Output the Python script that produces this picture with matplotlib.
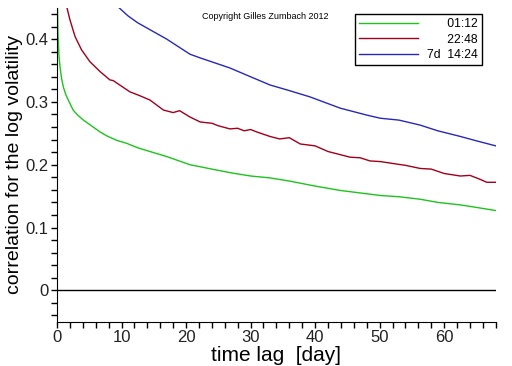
import matplotlib
matplotlib.use('Agg')
import matplotlib.pyplot as plt
import matplotlib.ticker as mticker

# ── Data ──────────────────────────────────────────────────────────────────────
LAG_GREEN = [0.02, 0.08, 0.15, 0.3, 0.47, 0.7, 0.98, 1.35, 1.75, 2.5, 3.2, 4.1,
             5.6, 6.7, 7.7, 9.2, 10.8, 12.5, 14.4, 17, 20.6, 24, 27, 30, 33,
             36, 40, 43.9, 47, 50.1, 53, 56.3, 59, 62.5, 65, 68]
CORR_GREEN = [0.55, 0.45, 0.41, 0.375, 0.356, 0.338, 0.324, 0.312, 0.303, 0.287,
              0.279, 0.271, 0.260, 0.252, 0.246, 0.239, 0.234, 0.227, 0.221,
              0.213, 0.200, 0.193, 0.187, 0.182, 0.179, 0.174, 0.166, 0.159,
              0.155, 0.151, 0.149, 0.145, 0.140, 0.136, 0.132, 0.127]

LAG_RED = [1.3, 1.5, 2.0, 2.8, 3.8, 5.1, 6.7, 8.2, 8.7, 10, 11.3, 12.8, 14.4,
           16.5, 18, 19, 20.6, 22.2, 24, 25, 26.8, 28, 29, 30, 31, 33, 34.5,
           36, 37.7, 40, 42, 43.9, 45.4, 47, 48.5, 50.1, 52, 54, 56.3, 58, 60,
           62.5, 64, 65.5, 66.6, 68]
CORR_RED = [0.47, 0.452, 0.431, 0.404, 0.383, 0.364, 0.348, 0.335, 0.334, 0.325,
            0.316, 0.310, 0.303, 0.287, 0.283, 0.286, 0.276, 0.268, 0.266,
            0.262, 0.257, 0.258, 0.254, 0.256, 0.252, 0.245, 0.241, 0.243,
            0.233, 0.230, 0.221, 0.216, 0.212, 0.211, 0.206, 0.205, 0.202,
            0.199, 0.194, 0.193, 0.186, 0.182, 0.183, 0.177, 0.172, 0.172]

LAG_BLUE = [9.2, 9.5, 11, 12.5, 14.4, 17, 20.6, 22.2, 26.8, 30, 33, 36, 39.2,
            43.9, 45.4, 48, 50.1, 53, 56.3, 59, 62.5, 65, 68]
CORR_BLUE = [0.46, 0.451, 0.437, 0.426, 0.415, 0.400, 0.376, 0.370, 0.354, 0.340,
             0.327, 0.318, 0.308, 0.290, 0.286, 0.279, 0.274, 0.271, 0.263,
             0.254, 0.245, 0.238, 0.230]

LABELS = ['      01:12', '      22:48', '7d  14:24']
COLORS = ['#1cc41c', '#a0001c', '#2828b8']

plt.rcParams['font.family'] = ['Liberation Sans', 'DejaVu Sans']

fig = plt.figure(figsize=(5.12, 3.66), dpi=100)
ax = fig.add_axes([0.1113, 0.121, 0.857, 0.858])

ax.plot(LAG_GREEN, CORR_GREEN, color=COLORS[0], lw=1, label=LABELS[0])
ax.plot(LAG_RED, CORR_RED, color=COLORS[1], lw=1, label=LABELS[1])
ax.plot(LAG_BLUE, CORR_BLUE, color=COLORS[2], lw=1, label=LABELS[2])
ax.axhline(0, color='black', lw=1)

ax.set_xlim(0, 68)
ax.set_ylim(-0.05, 0.45)
for side in ('top', 'right'):
    ax.spines[side].set_visible(False)

ax.xaxis.set_major_locator(mticker.MultipleLocator(10))
ax.xaxis.set_minor_locator(mticker.MultipleLocator(2))
ax.yaxis.set_major_locator(mticker.MultipleLocator(0.1))
ax.yaxis.set_minor_locator(mticker.MultipleLocator(0.02))
ax.yaxis.set_major_formatter(mticker.FuncFormatter(lambda v, _: '0' if abs(v) < 1e-9 else f'{v:.1f}'))
ax.tick_params(which='both', direction='out', length=4, width=1, labelsize=12, pad=2,
               labelcolor='#222222')

ax.set_xlabel('time lag  [day]', fontsize=15, labelpad=1)
ax.set_ylabel('correlation for the log volatility', fontsize=14, labelpad=2)

fig.text(0.518, 0.948, 'Copyright Gilles Zumbach 2012', fontsize=6.5, ha='center')

leg = ax.legend(loc='upper left', bbox_to_anchor=(0.693, 0.962), bbox_transform=fig.transFigure,
                borderaxespad=0, fancybox=False, edgecolor='black', framealpha=1,
                fontsize=8.7, handlelength=4.9, labelspacing=0.28, borderpad=0.35,
                handletextpad=0.7)
leg.get_frame().set_linewidth(1)

fig.savefig('out.png', dpi=100)
